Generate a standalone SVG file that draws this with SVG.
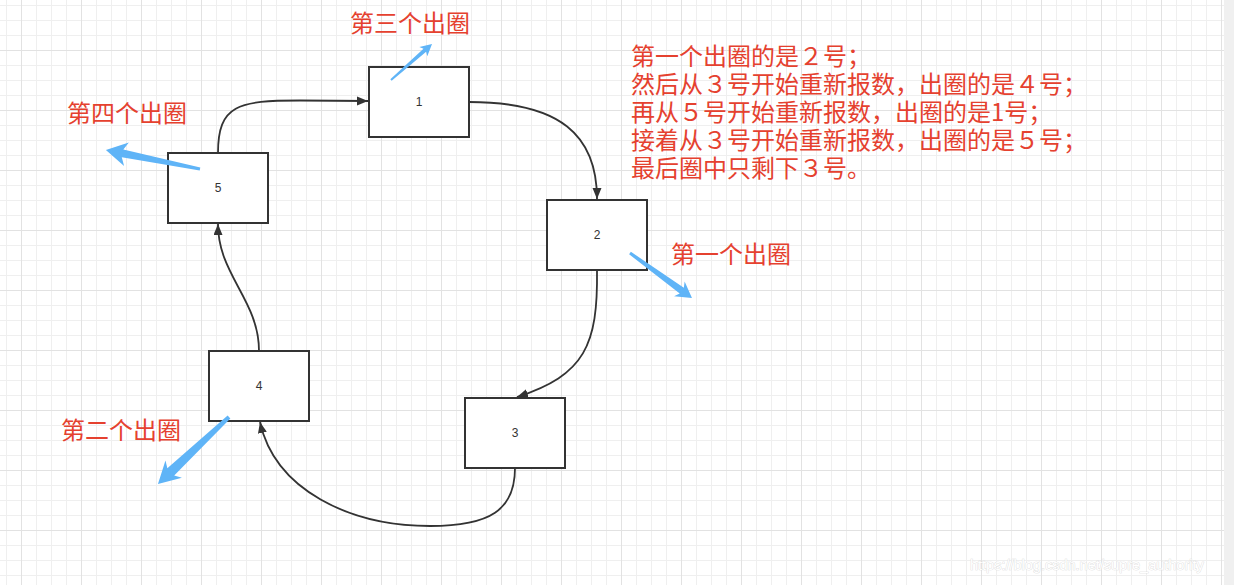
<svg xmlns="http://www.w3.org/2000/svg" width="1234" height="585" viewBox="0 0 1234 585">
<defs>
<pattern id="minor" x="6" y="5" width="15" height="15" patternUnits="userSpaceOnUse">
<path d="M0.5 0V15M0 0.5H15" stroke="#efefef" stroke-width="1" fill="none"/>
</pattern>
<pattern id="major" x="21" y="50" width="60" height="60" patternUnits="userSpaceOnUse">
<path d="M0.5 0V60M0 0.5H60" stroke="#e2e2e2" stroke-width="1" fill="none"/>
</pattern>
<marker id="ah" markerUnits="userSpaceOnUse" markerWidth="12" markerHeight="10" refX="11" refY="4.5" orient="auto">
<path d="M0,0 L11,4.5 L0,9 z" fill="#333"/>
</marker>
<style>
.box{fill:#fff;stroke:#333;stroke-width:2}
.num{font-family:"Liberation Sans",Arial,sans-serif;font-size:12px;fill:#333;text-anchor:middle}
.edge{fill:none;stroke:#333;stroke-width:1.8;marker-end:url(#ah)}
.red{font-family:"Noto Sans CJK SC","Noto Sans",sans-serif;font-size:24px;fill:#e5412f}
.para{font-family:"Noto Sans CJK SC","Noto Sans",sans-serif;font-size:24px;fill:#e5412f;line-height:1}
.blue{fill:#5fb4f7}
.wm{font-family:"Liberation Sans",Arial,sans-serif;font-size:14.5px;fill:#fff;stroke:#d6d6d6;stroke-width:0.7;paint-order:stroke}
</style>
</defs>
<rect width="1234" height="585" fill="#fff"/>
<rect width="1224" height="585" fill="url(#minor)"/>
<rect width="1224" height="585" fill="url(#major)"/>
<rect x="1224" y="0" width="10" height="585" fill="#f0f0f0"/>

<g id="connectors">
<path class="edge" d="M218,153 C218,105 238,100.5 300,100.5 L368,101"/>
<path class="edge" d="M469,102 C560,102 597,135 597,199"/>
<path class="edge" d="M597,270 C598,345 585,375 517,397"/>
<path class="edge" d="M515,468 C515,510 490,526 430,526 C350,526 275,490 260,422"/>
<path class="edge" d="M259,351 C259,300 218,275 218,224"/>
</g>

<g id="node1"><rect class="box" x="369" y="67" width="100" height="70"/><text class="num" x="419" y="106">1</text></g>
<g id="node2"><rect class="box" x="547" y="200" width="100" height="70"/><text class="num" x="597" y="239">2</text></g>
<g id="node3"><rect class="box" x="465" y="398" width="100" height="70"/><text class="num" x="515" y="437">3</text></g>
<g id="node4"><rect class="box" x="209" y="351" width="100" height="70"/><text class="num" x="259" y="390">4</text></g>
<g id="node5"><rect class="box" x="168" y="153" width="100" height="70"/><text class="num" x="218" y="192">5</text></g>

<g id="blue-arrows">
<polygon class="blue" transform="translate(391,80) rotate(-41.3)" points="0,-1 45,-2 43,-6 54.6,0 43,6 45,2 0,1"/>
<polygon class="blue" transform="translate(630,253) rotate(36)" points="0,-1.5 64,-3.5 61,-9 76.6,0 61,9 64,3.5 0,1.5"/>
<polygon class="blue" transform="translate(200,169) rotate(191.4)" points="0,-1.5 79,-4 75,-12 96,0 75,12 79,4 0,1.5"/>
<polygon class="blue" transform="translate(229,417) rotate(136.7)" points="0,-2 80,-5 76,-12 97.6,0 76,12 80,5 0,2"/>
</g>

<g id="labels">
<text class="red" x="350" y="32">第三个出圈</text>
<text class="red" x="671" y="263">第一个出圈</text>
<text class="red" x="67" y="122">第四个出圈</text>
<text class="red" x="61" y="439">第二个出圈</text>
<text class="para" x="631" y="65">第一个出圈的是２号；</text>
<text class="para" x="631" y="93">然后从３号开始重新报数，出圈的是４号；</text>
<text class="para" x="631" y="121">再从５号开始重新报数，出圈的是1号；</text>
<text class="para" x="631" y="149">接着从３号开始重新报数，出圈的是５号；</text>
<text class="para" x="631" y="177">最后圈中只剩下３号。</text>
</g>

<text class="wm" x="970" y="570">https://blog.csdn.net/supre_authority</text>
</svg>
